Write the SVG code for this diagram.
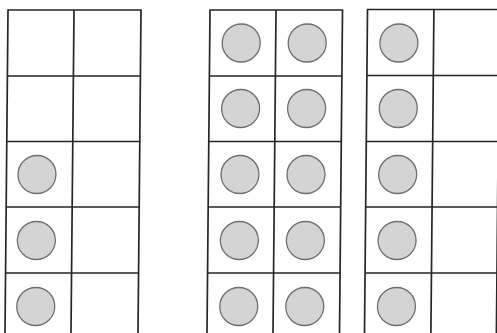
<svg xmlns="http://www.w3.org/2000/svg" width="497" height="333" viewBox="0 0 497 333">
<style>
.grid{fill:none;stroke:#262626;stroke-width:1.7}
.dot{fill:#d4d4d4;stroke:#6e6e6e;stroke-width:1.3}
</style>
<rect width="497" height="333" fill="#ffffff"/>
<g transform="matrix(1 0 -0.0093 1 0 0)">
<g id="frame1">
<rect class="grid" x="8.1" y="10" width="133" height="329"/>
<path class="grid" d="M74.1 10V339M8.1 76H141.1M8.1 141.5H141.1M8.1 207H141.1M8.1 273H141.1"/>
<circle class="dot" cx="38.6" cy="174.5" r="19"/>
<circle class="dot" cx="38.6" cy="240.5" r="19"/>
<circle class="dot" cx="38.6" cy="306.5" r="19"/>
</g>
<g id="frame2">
<rect class="grid" x="210.1" y="10" width="132.5" height="329"/>
<path class="grid" d="M276.1 10V339M210.1 76H342.6M210.1 141.5H342.6M210.1 207H342.6M210.1 273H342.6"/>
<circle class="dot" cx="241.6" cy="43" r="19"/>
<circle class="dot" cx="307.6" cy="43" r="19"/>
<circle class="dot" cx="241.6" cy="108.5" r="19"/>
<circle class="dot" cx="307.6" cy="108.5" r="19"/>
<circle class="dot" cx="241.6" cy="174.5" r="19"/>
<circle class="dot" cx="307.6" cy="174.5" r="19"/>
<circle class="dot" cx="241.6" cy="240.5" r="19"/>
<circle class="dot" cx="307.6" cy="240.5" r="19"/>
<circle class="dot" cx="241.6" cy="306.5" r="19"/>
<circle class="dot" cx="307.6" cy="306.5" r="19"/>
</g>
<g id="frame3">
<rect class="grid" x="367.6" y="9.5" width="131.9" height="329.5"/>
<path class="grid" d="M434 9.5V339M367.6 75.5H499.5M367.6 141.5H499.5M367.6 207H499.5M367.6 273H499.5"/>
<circle class="dot" cx="399.3" cy="43" r="19"/>
<circle class="dot" cx="399.3" cy="108.5" r="19"/>
<circle class="dot" cx="399.3" cy="174.5" r="19"/>
<circle class="dot" cx="399.3" cy="240.5" r="19"/>
<circle class="dot" cx="399.3" cy="306.5" r="19"/>
</g>
</g>
</svg>
